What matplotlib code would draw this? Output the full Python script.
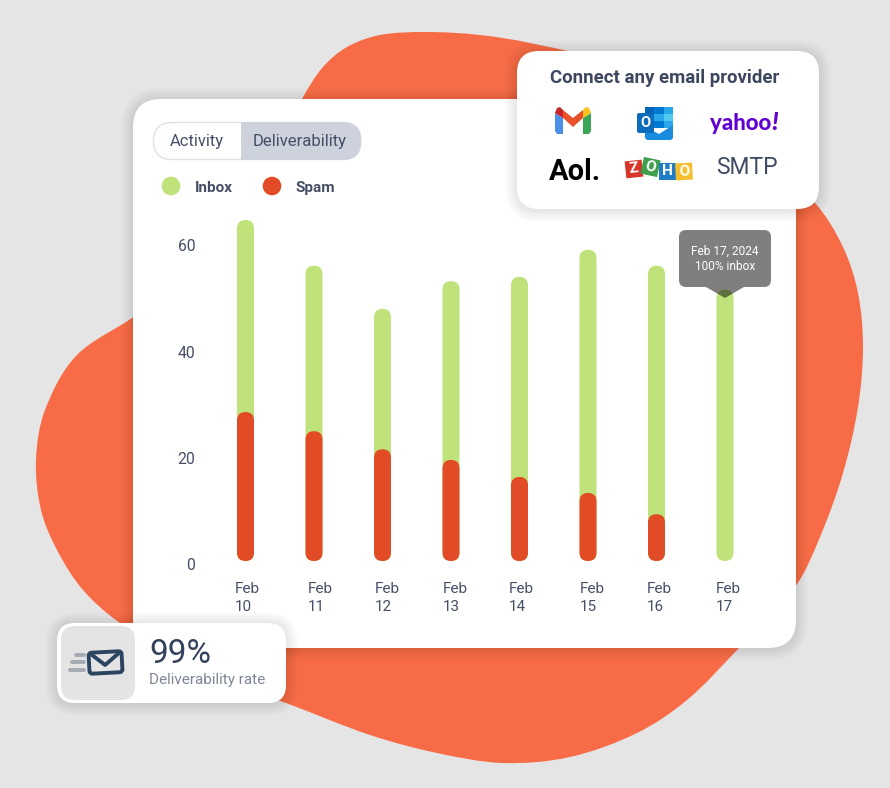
import matplotlib
matplotlib.use("Agg")
import matplotlib.pyplot as plt
from matplotlib.patches import FancyBboxPatch, PathPatch, Polygon, Circle, Rectangle
from matplotlib.path import Path
from matplotlib.transforms import ScaledTranslation, Affine2D
import numpy as np

plt.rcParams['font.family'] = ['Roboto', 'DejaVu Sans']

# Data
days = ['Feb\n10', 'Feb\n11', 'Feb\n12', 'Feb\n13', 'Feb\n14', 'Feb\n15', 'Feb\n16', 'Feb\n17']
inbox = [36.1, 31.1, 26.4, 33.6, 37.6, 45.7, 46.7, 51.0]
spam = [28.0, 24.4, 21.0, 19.0, 15.8, 12.8, 8.8, 0.0]
y_ticks = [0, 20, 40, 60]

W, H = 890, 788
INK = '#454e66'
GREEN = '#c0e27a'
RED = '#e14c27'
ORANGE = '#f76c47'

# outline of the orange shape behind the cards
blob = [(132, 318), (76, 356), (45, 410), (36, 460), (41, 510), (57, 550),
        (83, 590), (120, 623), (200, 672), (286, 703), (370, 735), (437, 753), (503, 763),
        (570, 757), (637, 733), (687, 700), (737, 650), (795, 587), (820, 537), (843, 473),
        (858, 407), (863, 347), (858, 293), (843, 247), (815, 203), (720, 110), (620, 65),
        (530, 43), (480, 35), (427, 32), (380, 35), (347, 47), (323, 67), (302, 99), (220, 255)]


def smooth_closed(pts):
    # closed spline: tangent follows the neighbours, handle length follows the segment
    pts = np.array(pts, dtype=float)
    n = len(pts)
    tang = []
    for i in range(n):
        d = pts[(i + 1) % n] - pts[i - 1]
        tang.append(d / np.linalg.norm(d))
    verts = [pts[0]]
    codes = [Path.MOVETO]
    for i in range(n):
        j = (i + 1) % n
        seg = np.linalg.norm(pts[j] - pts[i]) / 3
        verts += [pts[i] + tang[i] * seg, pts[j] - tang[j] * seg, pts[j]]
        codes += [Path.CURVE4] * 3
    return Path(verts, codes)


def round_box(ax, x0, y0, x1, y1, r, **kw):
    p = FancyBboxPatch((x0, y0), x1 - x0, y1 - y0, boxstyle=f'round,pad=0,rounding_size={r}', **kw)
    ax.add_patch(p)
    return p


def card(ax, x0, y0, x1, y1, r):
    # soft shadow from stacked transparent boxes, then the white card
    for i in range(1, 13):
        round_box(ax, x0 - i, y0 - i + 1, x1 + i, y1 + i + 1, r + i, fc='black', ec='none', alpha=0.0065)
    round_box(ax, x0, y0, x1, y1, r, fc='white', ec='none')


fig = plt.figure(figsize=(W / 100, H / 100), dpi=100, facecolor='#e5e5e5')


def layer(z):
    a = fig.add_axes([0, 0, 1, 1], zorder=z)
    a.set_xlim(0, W)
    a.set_ylim(H, 0)
    a.axis('off')
    return a


back = layer(0)
front = layer(2)

back.add_patch(PathPatch(smooth_closed(blob), fc=ORANGE, ec='none'))
card(back, 133, 99, 796, 648, 28)

# Activity / Deliverability switch
round_box(back, 153.5, 122.5, 361, 159.5, 18.5, fc='white', ec='#dfe1e6', lw=1)
sel = round_box(back, 153.5, 122, 361, 160, 18.5, fc='#cdd2dc', ec='none')
sel.set_clip_path(Rectangle((241, 115), 130, 50, transform=back.transData))
back.text(197, 141, 'Activity', fontsize=12, color=INK, ha='center', va='center')
back.text(300, 141, 'Deliverability', fontsize=12, color=INK, ha='center', va='center')

# Legend
back.add_patch(Circle((171, 186), 9.3, fc=GREEN, ec='none'))
back.add_patch(Circle((272, 186), 9.3, fc=RED, ec='none'))
back.text(195, 187.5, 'Inbox', fontsize=11, color=INK, fontweight='bold', ha='left', va='center')
back.text(295, 187.5, 'Spam', fontsize=11, color=INK, fontweight='bold', ha='left', va='center')

# Bars
PX_X = 68.5
PX_Y = 5.32
ax = fig.add_axes([211.25 / W, 1 - 561 / H, PX_X * 8 / W, 361 / H], zorder=1)
ax.patch.set_alpha(0)
ax.set_xlim(-0.5, 7.5)
ax.set_ylim(0, 361 / PX_Y)
bar_w = 17 / PX_X
rnd = 8.4 / PX_X
aspect = PX_X / PX_Y


def bar(x, top, color):
    if top <= 0:
        return
    ax.add_patch(FancyBboxPatch((x - bar_w / 2, 0), bar_w, top,
                                boxstyle=f'round,pad=0,rounding_size={rnd}',
                                mutation_aspect=aspect, fc=color, ec='none'))


for i in range(len(days)):
    bar(i, inbox[i] + spam[i], GREEN)
    bar(i, spam[i], RED)

for s in ax.spines.values():
    s.set_visible(False)
ax.set_yticks(y_ticks)
ax.set_xticks(range(len(days)))
ax.set_xticklabels(days, fontsize=11, color=INK, linespacing=1.4, multialignment='left')
ax.tick_params(length=0)
ax.tick_params(axis='y', labelsize=11.3, labelcolor=INK, pad=11.5)
ax.tick_params(axis='x', pad=15)

# labels sit a little off their ticks
for t in ax.get_yticklabels():
    t.set_transform(t.get_transform() + ScaledTranslation(0, -3.3 / 100, fig.dpi_scale_trans))
nudge = [2, 6, 5, 4, 2, 4, 3, 3]
for t, dx in zip(ax.get_xticklabels(), nudge):
    t.set_transform(t.get_transform() + ScaledTranslation(dx / 100, 0, fig.dpi_scale_trans))

# Tooltip over the last bar
tip = front
round_box(tip, 679, 230, 771, 287, 7, fc='black', ec='none', alpha=0.5)
tip.add_patch(Polygon([(706, 287), (744, 287), (725, 298)], fc='black', ec='none', alpha=0.5))
tip.text(725, 251, 'Feb 17, 2024', fontsize=8.6, color='white', ha='center', va='center')
tip.text(725, 266, '100% inbox', fontsize=8.6, color='white', ha='center', va='center')

# Provider card
card(front, 517, 51, 819, 209, 22)
front.text(665, 78, 'Connect any email provider', fontsize=13.4, fontweight='bold', color='#3d4760',
           ha='center', va='center')

# Gmail
front.add_patch(Polygon([(555, 113), (555, 131), (557, 134), (563, 134), (563, 118)], fc='#4a90e8', ec='none'))
front.add_patch(Polygon([(583, 118), (583, 134), (589, 134), (591, 131), (591, 113)], fc='#3aa655', ec='none'))
front.add_patch(Polygon([(563, 110), (573, 118), (583, 110), (583, 118), (573, 127), (563, 118)], fc='#e8512a', ec='none'))
front.add_patch(Polygon([(555, 113), (557, 108), (560, 107), (563, 110), (563, 118)], fc='#c9252d', ec='none'))
front.add_patch(Polygon([(583, 110), (586, 107), (589, 108), (591, 113), (583, 118)], fc='#f7c11e', ec='none'))

# Outlook
tiles = [(645, 107, 9, 7, '#0364b8'), (654, 107, 10, 7, '#0078d4'), (664, 107, 9, 7, '#28a8ea'),
         (645, 114, 9, 7, '#0078d4'), (654, 114, 10, 7, '#28a8ea'), (664, 114, 9, 7, '#50c8f0'),
         (645, 121, 9, 7, '#0364b8'), (654, 121, 10, 7, '#0078d4'), (664, 121, 9, 7, '#28a8ea')]
for x, y, w, h, c in tiles:
    front.add_patch(Rectangle((x, y), w, h, fc=c, ec='none'))
front.add_patch(Polygon([(645, 127), (659, 134), (673, 125), (673, 138), (671, 140), (647, 140), (645, 138)],
                        fc='#1a8ce0', ec='none'))
round_box(front, 637, 113, 654, 133, 2, fc='#0f6cbd', ec='none')
front.text(645.5, 123, 'O', fontsize=10.5, fontweight='bold', color='white', ha='center', va='center')

# Other providers
front.text(771, 123, 'yahoo', fontsize=16, fontweight='black', color='#6001d2', family='Lato',
           ha='right', va='center')
front.text(771, 122, '!', fontsize=18, fontweight='black', color='#6001d2', family='Lato',
           ha='left', va='center', style='italic')
front.text(549, 172, 'Aol.', fontsize=21, fontweight='bold', color='black', ha='left', va='center')
front.text(746.5, 167, 'SMTP', fontsize=16.5, color='#3f4a63', ha='center', va='center')

zoho = [('Z', 634, 169, -6, '#d8352a'), ('O', 650.5, 167, 12, '#3f9f4c'),
        ('H', 667, 171, 0, '#1f7cc7'), ('O', 684, 171.5, -3, '#f4bf2f')]
for letter, x, y, rot, c in zoho:
    rc = Rectangle((x - 8.5, y - 8.5), 17, 17, fc=c, ec='none',
                   transform=Affine2D().rotate_deg_around(x, y, rot) + front.transData)
    front.add_patch(rc)
    front.text(x, y, letter, fontsize=11, fontweight='bold', color='white', ha='center', va='center', rotation=-rot)

# Deliverability badge
card(front, 57, 623, 286, 703, 18)
round_box(front, 61, 626, 135, 700, 14, fc='#e4e4e4', ec='none')
for y, x0 in [(655, 76), (662, 72), (670, 70)]:
    front.plot([x0, 84], [y, y], color='#a4a9b3', lw=2.8, solid_capstyle='round')
env = Affine2D().rotate_deg_around(105, 662, -3) + front.transData
front.add_patch(FancyBboxPatch((89, 652), 33, 21, boxstyle='round,pad=0,rounding_size=3', fc='none',
                               ec='#2b4460', lw=2.8, transform=env))
front.plot([92, 105, 119], [654, 665, 654], color='#2b4460', lw=2.8, transform=env, solid_joinstyle='round')
front.text(149, 654, '99%', fontsize=24, color='#33415c', ha='left', va='center')
front.text(149, 680, 'Deliverability rate', fontsize=11, color='#7e8696', ha='left', va='center')

fig.savefig('out.png', dpi=100, facecolor=fig.get_facecolor())
